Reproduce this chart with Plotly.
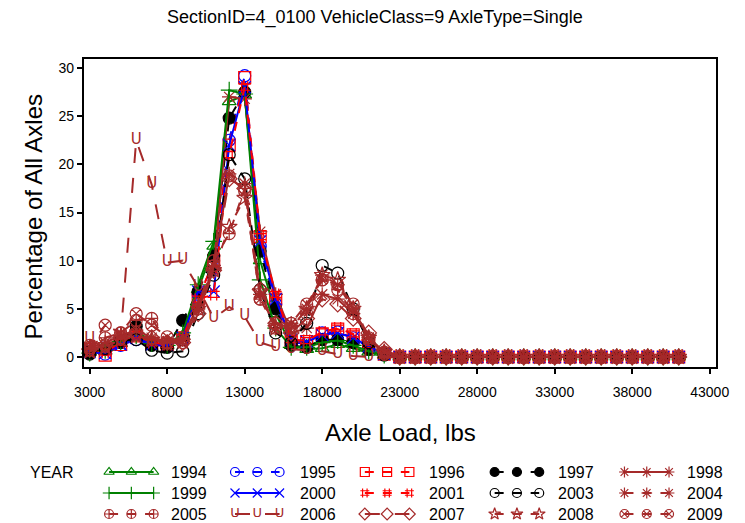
import plotly.graph_objects as go

# ---------------- data ----------------
axle_load = [3000, 4000, 5000, 6000, 7000, 8000, 9000, 10000, 11000, 12000,
             13000, 14000, 15000, 16000, 17000, 18000, 19000, 20000, 21000, 22000,
             23000, 24000, 25000, 26000, 27000, 28000, 29000, 30000, 31000, 32000,
             33000, 34000, 35000, 36000, 37000, 38000, 39000, 40000, 41000]

years = ["1994", "1995", "1996", "1997", "1998",
         "1999", "2000", "2001", "2003", "2004",
         "2005", "2006", "2007", "2008", "2009"]

pct_1994 = [0.5, 0.6, 1.4, 2.0, 1.5, 1.2, 2.2, 7.0, 11.5, 26.5, 27.2, 10.0, 4.5, 1.2, 0.8, 0.9, 1.3, 0.9, 0.5, 0.2,
            0, 0, 0, 0, 0, 0, 0, 0, 0, 0, 0, 0, 0, 0, 0, 0, 0, 0, 0]
pct_1995 = [0.6, 0.3, 1.2, 1.8, 1.3, 1.1, 1.8, 6.5, 9.5, 22.5, 29.2, 11.5, 5.5, 1.5, 1.4, 2.5, 2.6, 2.0, 1.0, 0.3,
            0, 0, 0, 0, 0, 0, 0, 0, 0, 0, 0, 0, 0, 0, 0, 0, 0, 0, 0]
pct_1996 = [0.8, 0.2, 1.3, 2.2, 1.4, 1.3, 2.0, 6.0, 10.0, 22.0, 29.0, 12.5, 6.0, 1.6, 1.6, 2.4, 2.9, 2.3, 1.2, 0.3,
            0, 0, 0, 0, 0, 0, 0, 0, 0, 0, 0, 0, 0, 0, 0, 0, 0, 0, 0]
pct_1997 = [0.3, 0.8, 1.5, 3.2, 1.2, 1.0, 3.8, 6.8, 10.5, 24.8, 27.5, 11.0, 5.0, 1.2, 1.0, 1.8, 1.8, 1.5, 0.8, 0.2,
            0, 0, 0, 0, 0, 0, 0, 0, 0, 0, 0, 0, 0, 0, 0, 0, 0, 0, 0]
pct_1998 = [0.8, 1.2, 2.0, 2.5, 1.8, 1.5, 1.8, 5.5, 9.0, 27.0, 26.8, 13.0, 6.5, 2.5, 3.0, 6.5, 6.0, 4.5, 2.0, 0.5,
            0, 0, 0, 0, 0, 0, 0, 0, 0, 0, 0, 0, 0, 0, 0, 0, 0, 0, 0]
pct_1999 = [0.4, 0.7, 1.6, 2.2, 1.4, 1.2, 2.5, 7.5, 12.0, 27.7, 27.3, 8.0, 3.0, 1.0, 1.0, 1.5, 1.7, 1.2, 0.6, 0.2,
            0, 0, 0, 0, 0, 0, 0, 0, 0, 0, 0, 0, 0, 0, 0, 0, 0, 0, 0]
pct_2000 = [0.5, 0.4, 1.3, 2.0, 1.3, 1.2, 2.0, 6.8, 6.8, 22.0, 28.0, 12.0, 6.0, 1.8, 1.6, 2.3, 2.5, 2.0, 1.1, 0.3,
            0, 0, 0, 0, 0, 0, 0, 0, 0, 0, 0, 0, 0, 0, 0, 0, 0, 0, 0]
pct_2001 = [0.7, 0.5, 1.5, 2.3, 1.5, 1.3, 2.0, 6.0, 6.5, 21.0, 28.0, 12.5, 6.5, 1.8, 1.7, 2.6, 3.0, 2.4, 1.3, 0.3,
            0, 0, 0, 0, 0, 0, 0, 0, 0, 0, 0, 0, 0, 0, 0, 0, 0, 0, 0]
pct_2003 = [0.5, 0.9, 1.7, 1.8, 0.7, 0.4, 0.6, 4.5, 8.5, 21.0, 18.5, 7.0, 2.5, 1.5, 3.5, 9.5, 8.7, 5.0, 1.5, 0.3,
            0, 0, 0, 0, 0, 0, 0, 0, 0, 0, 0, 0, 0, 0, 0, 0, 0, 0, 0]
pct_2004 = [1.0, 1.5, 2.2, 2.8, 2.0, 1.6, 1.8, 5.0, 9.5, 19.0, 18.0, 6.5, 3.0, 3.5, 5.0, 8.5, 7.5, 5.0, 2.0, 0.5,
            0, 0, 0, 0, 0, 0, 0, 0, 0, 0, 0, 0, 0, 0, 0, 0, 0, 0, 0]
pct_2005 = [1.2, 2.0, 2.5, 3.8, 4.0, 1.5, 2.0, 5.5, 10.0, 12.8, 17.5, 6.0, 3.5, 3.0, 4.5, 8.0, 7.0, 4.5, 1.8, 0.4,
            0, 0, 0, 0, 0, 0, 0, 0, 0, 0, 0, 0, 0, 0, 0, 0, 0, 0, 0]
pct_2006 = [1.8, 1.0, 2.2, 22.5, 17.9, 9.8, 10.0, 7.2, 4.0, 5.2, 4.2, 1.5, 1.0, 0.8, 0.7, 0.6, 0.3, 0.1, 0.0, 0.0,
            0, 0, 0, 0, 0, 0, 0, 0, 0, 0, 0, 0, 0, 0, 0, 0, 0, 0, 0]
pct_2007 = [0.8, 1.2, 2.0, 2.5, 2.0, 1.5, 1.5, 4.5, 9.0, 18.5, 17.5, 7.0, 3.5, 2.5, 4.0, 6.0, 5.5, 4.0, 2.5, 0.8,
            0, 0, 0, 0, 0, 0, 0, 0, 0, 0, 0, 0, 0, 0, 0, 0, 0, 0, 0]
pct_2008 = [0.6, 1.0, 1.8, 2.2, 1.8, 1.4, 1.6, 5.0, 9.0, 13.5, 16.5, 6.8, 3.0, 3.0, 5.0, 8.5, 8.0, 5.0, 2.0, 0.5,
            0, 0, 0, 0, 0, 0, 0, 0, 0, 0, 0, 0, 0, 0, 0, 0, 0, 0, 0]
pct_2009 = [1.0, 3.3, 2.5, 4.5, 3.3, 2.1, 1.5, 5.0, 9.5, 18.8, 17.2, 6.0, 3.0, 3.5, 5.5, 8.0, 7.5, 5.5, 2.0, 0.5,
            0, 0, 0, 0, 0, 0, 0, 0, 0, 0, 0, 0, 0, 0, 0, 0, 0, 0, 0]

series_values = [pct_1994, pct_1995, pct_1996, pct_1997, pct_1998,
                 pct_1999, pct_2000, pct_2001, pct_2003, pct_2004,
                 pct_2005, pct_2006, pct_2007, pct_2008, pct_2009]

x_ticks = [3000, 8000, 13000, 18000, 23000, 28000, 33000, 38000, 43000]
y_ticks = [0, 5, 10, 15, 20, 25, 30]

# ---------------- styles ----------------
GREEN, BLUE, RED, BLACK, BROWN = "#008000", "#0000FF", "#FF0000", "#000000", "#A52A2A"
styles = [
    (GREEN, "triangle-up-open", "solid"),
    (BLUE, "circle-open", "dash"),
    (RED, "square-open", "dash"),
    (BLACK, "circle", "dash"),
    (BROWN, "asterisk-open", "solid"),
    (GREEN, "cross-thin-open", "solid"),
    (BLUE, "x-thin-open", "solid"),
    (RED, "hash-open", "dash"),
    (BLACK, "circle-open", "dash"),
    (BROWN, "asterisk-open", "dash"),
    (BROWN, "circle-cross-open", "dash"),
    (BROWN, "TEXT:U", "longdash"),
    (BROWN, "diamond-open", "longdash"),
    (BROWN, "star-open", "dash"),
    (BROWN, "circle-x-open", "dash"),
]

FONT = "Arial, Liberation Sans, sans-serif"
# page body has an 8px margin; figure is sized to fit the 745x523 window
OFF = 8
W, H = 745 - OFF, 523 - OFF


def px(xr):  # reference x pixel -> paper fraction
    return (xr - OFF) / W


def py(yr):  # reference y pixel -> paper fraction
    return 1 - (yr - OFF) / H


L, R, T, B = 76, 729, 59, 367

fig = go.Figure()


def add_series(x, y, color, sym, dash, xa, ya, msize, tsize, lw):
    if sym.startswith("TEXT:"):
        glyph = sym[5:]
        fig.add_trace(go.Scatter(
            x=x, y=y, mode="lines+text", text=[glyph] * len(x),
            textposition="middle center",
            textfont=dict(color=color, size=tsize, family="DejaVu Sans"),
            line=dict(color=color, width=lw, dash=dash),
            xaxis=xa, yaxis=ya, showlegend=False, cliponaxis=False))
    else:
        fig.add_trace(go.Scatter(
            x=x, y=y, mode="lines+markers",
            line=dict(color=color, width=lw, dash=dash),
            marker=dict(symbol=sym, size=msize, color=color,
                        line=dict(color=color, width=1.2)),
            xaxis=xa, yaxis=ya, showlegend=False, cliponaxis=False))


for yr, vals, (c, s, d) in zip(years, series_values, styles):
    add_series(axle_load, vals, c, s, d, "x", "y", 12, 15, 2)

# ---------------- legend (pixel-coordinate helper axis) ----------------
col_sym_x = [99, 229, 363, 497, 631]
col_txt_x = [164, 297, 430, 563, 697]
row_y = [472, 493, 514]
for i, (yr, (c, s, d)) in enumerate(zip(years, styles)):
    col, row = i % 5, i // 5
    x0 = col_sym_x[col]
    xs = [x0 + 3, x0 + 26, x0 + 49]
    ys = [row_y[row]] * 3
    add_series(xs, ys, c, s, d, "x2", "y2", 9, 13, 2)
    fig.add_annotation(x=px(col_txt_x[col]), y=py(row_y[row]), xref="paper", yref="paper",
                       text=yr, showarrow=False, xanchor="left", yanchor="middle",
                       font=dict(family=FONT, size=16, color="black"))

fig.add_annotation(x=px(18), y=py(472), xref="paper", yref="paper", text="YEAR",
                   showarrow=False, xanchor="left", yanchor="middle",
                   font=dict(family=FONT, size=16, color="black"))

# titles
fig.add_annotation(x=px(376), y=py(17), xref="paper", yref="paper",
                   text="SectionID=4_0100 VehicleClass=9 AxleType=Single",
                   showarrow=False, xanchor="center", yanchor="middle",
                   font=dict(family=FONT, size=18, color="black"))
fig.add_annotation(x=px(403), y=py(432), xref="paper", yref="paper",
                   text="Axle Load, lbs", showarrow=False, xanchor="center", yanchor="middle",
                   font=dict(family=FONT, size=24, color="black"))
fig.add_annotation(x=px(25), y=py(217), xref="paper", yref="paper",
                   text="Percentage of All Axles", showarrow=False, textangle=-90,
                   xanchor="center", yanchor="middle",
                   font=dict(family=FONT, size=24, color="black"))

# axis ranges from pixel layout: 3000 at x=82, 5000 per 80 px; 0 at y=357, 30 at y=68
x_lo = 3000 + (L - 82) / 80 * 5000
x_hi = 3000 + (R - 82) / 80 * 5000
y_per_px = 30 / (357 - 68)
y_lo = -(B - 357) * y_per_px
y_hi = 30 + (68 - T) * y_per_px

fig.update_layout(
    width=W, height=H,
    margin=dict(l=0, r=0, t=0, b=0),
    paper_bgcolor="white", plot_bgcolor="white",
    showlegend=False,
    font=dict(family=FONT, color="black"),
    xaxis=dict(domain=[px(L), px(R)], range=[x_lo, x_hi], tickvals=x_ticks,
               ticktext=[str(v) for v in x_ticks], ticks="outside", ticklen=5,
               tickwidth=1.5, tickcolor="black", showline=True, linecolor="black",
               linewidth=2, mirror=True, showgrid=False, zeroline=False,
               ticklabelstandoff=6,
               tickfont=dict(family=FONT, size=14, color="black"), anchor="y"),
    yaxis=dict(domain=[py(B), py(T)], range=[y_lo, y_hi], tickvals=y_ticks,
               ticks="outside", ticklen=5, tickwidth=1.5, tickcolor="black",
               showline=True, linecolor="black", linewidth=2, mirror=True,
               showgrid=False, zeroline=False,
               tickfont=dict(family=FONT, size=14, color="black"), anchor="x"),
    xaxis2=dict(domain=[0, 1], range=[OFF, W + OFF], visible=False, anchor="y2"),
    yaxis2=dict(domain=[0, py(455)], range=[H + OFF, 455], visible=False, anchor="x2"),
)

fig.write_html("out.html")
